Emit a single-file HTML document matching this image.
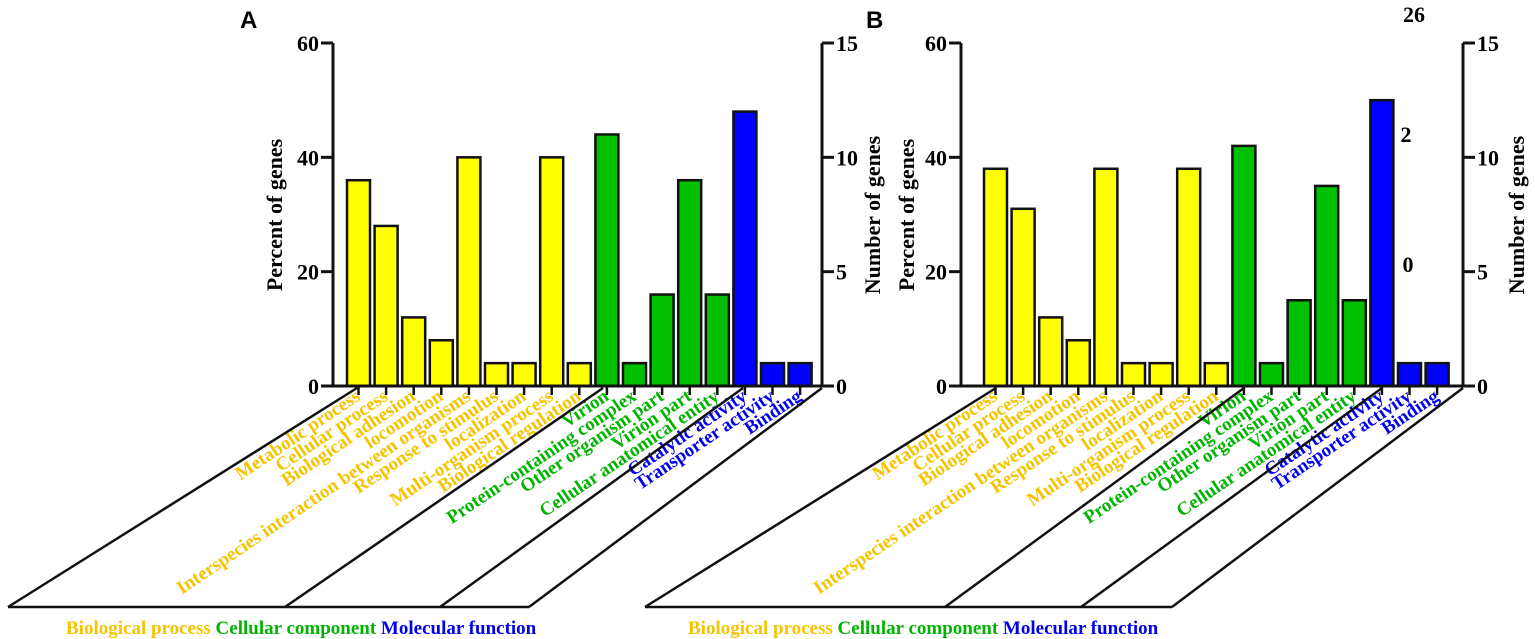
<!DOCTYPE html>
<html><head><meta charset="utf-8"><style>
html,body{margin:0;padding:0;background:#fff;}
svg{display:block;}
text{font-family:"Liberation Serif",serif;font-weight:bold;}
</style></head><body>
<svg id="chart" width="1535" height="639" viewBox="0 0 1535 639" xmlns="http://www.w3.org/2000/svg"></svg>
<script>
const categories = ["Metabolic process","Cellular process","Biological adhesion","locomotion","Interspecies interaction between organisms","Response to stimulus","localization","Multi-organism process","Biological regulation","Virion","Protein-containing complex","Other organism part","Virion part","Cellular anatomical entity","Catalytic activity","Transporter activity","Binding"];
const groups = [0,0,0,0,0,0,0,0,0,1,1,1,1,1,2,2,2];
const valuesA = [36,28,12,8,40,4,4,40,4,44,4,16,36,16,48,4,4];
const valuesB = [38,31,12,8,38,4,4,38,4,42,4,15,35,15,50,4,4];
const leftTicks = [0,20,40,60];
const rightTicks = [0,5,10,15];
const groupNames = ["Biological process","Cellular component","Molecular function"];
const barFill = ["#FFFF00","#00C000","#0000FF"];
const textFill = ["#F5C400","#00B400","#0000EE"];

const NS="http://www.w3.org/2000/svg";
const svg=document.getElementById('chart');
function mk(tag,attrs,parent){const e=document.createElementNS(NS,tag);for(const k in attrs)e.setAttribute(k,attrs[k]);(parent||svg).appendChild(e);return e;}

const panels=[
 {id:'a',letter:'A',letterX:240,values:valuesA,axL:333,axR:822,bar0:347,pitch:27.6,bw:23,
  ylab:282,rlab:880,bottom:[8,285,440,529],tops:[357,603,743,822],legendX:66},
 {id:'b',letter:'B',letterX:866,values:valuesB,axL:961,axR:1463,bar0:984,pitch:27.6,bw:23,
  ylab:914,rlab:1524,bottom:[645,945,1081,1172],tops:[996,1244,1382,1463],legendX:688}
];
const y0=386,yTop=43;
function yScale(v){return y0-(v/60)*(y0-yTop);}
function yScaleR(v){return y0-(v/15)*(y0-yTop);}

panels.forEach(p=>{
  const g=mk('g',{});
  
  
  const L=mk('text',{x:p.letterX,y:28,'font-size':24,style:'font-family:"Liberation Sans",sans-serif;font-weight:bold'},g);
  L.textContent=p.letter;
  
  
  p.values.forEach((v,i)=>{
    const x=p.bar0+i*p.pitch;
    const r=mk('rect',{x:x,y:yScale(v),width:p.bw,height:y0-yScale(v),fill:barFill[groups[i]],stroke:'#111','stroke-width':2.5},g);
    
    
    const cx=x+p.bw/2;
    mk('line',{x1:cx,y1:y0,x2:cx,y2:y0+9,stroke:'#111','stroke-width':2.5},g);
    const t=mk('text',{x:cx+3,y:y0+13,'font-size':19,fill:textFill[groups[i]],'text-anchor':'end',transform:`rotate(-34 ${cx+3} ${y0+13})`},g);
    t.textContent=categories[i];
    
    
  });
  const la=mk('line',{x1:p.axL,y1:yTop,x2:p.axL,y2:y0+1,stroke:'#111','stroke-width':3},g);
  
  
  const ra=mk('line',{x1:p.axR,y1:yTop,x2:p.axR,y2:y0+1,stroke:'#111','stroke-width':3},g);
  
  
  const xa=mk('line',{x1:p.axL,y1:y0,x2:p.axR+12,y2:y0,stroke:'#111','stroke-width':3},g);
  
  
  leftTicks.forEach(v=>{
    const y=yScale(v);
    mk('line',{x1:p.axL-12,y1:y,x2:p.axL,y2:y,stroke:'#111','stroke-width':3},g);
    const t=mk('text',{x:p.axL-14,y:y+8,'font-size':22,'text-anchor':'end'},g);
    t.textContent=v;
    
    
  });
  rightTicks.forEach(v=>{
    const y=yScaleR(v);
    mk('line',{x1:p.axR,y1:y,x2:p.axR+12,y2:y,stroke:'#111','stroke-width':3},g);
    const t=mk('text',{x:p.axR+14,y:y+8,'font-size':22},g);
    t.textContent=v;
    
    
  });
  const yl=mk('text',{x:p.ylab,y:215,'font-size':22,'text-anchor':'middle',transform:`rotate(-90 ${p.ylab} 215)`},g);
  yl.textContent='Percent of genes';
  
  
  const rl=mk('text',{x:p.rlab,y:215,'font-size':22,'text-anchor':'middle',transform:`rotate(-90 ${p.rlab} 215)`},g);
  rl.textContent='Number of genes';
  
  
  mk('line',{x1:p.bottom[0],y1:607,x2:p.bottom[3],y2:607,stroke:'#111','stroke-width':2.5},g);
  for(let k=0;k<4;k++){
    mk('line',{x1:p.bottom[k],y1:607,x2:p.tops[k],y2:y0+2,stroke:'#111','stroke-width':2.5},g);
  }
  const lg=mk('text',{x:p.legendX,y:634,'font-size':19},g);
  
  
  groupNames.forEach((n,k)=>{const s=mk('tspan',{fill:textFill[k]},lg);s.textContent=n+(k<2?' ':'');});
});
[["26",1414,22],["2",1406,142],["0",1408,272]].forEach(a=>{
  const t=mk('text',{x:a[1],y:a[2],'font-size':22,'text-anchor':'middle'});
  t.textContent=a[0];
  
  
});
</script>
</body></html>
